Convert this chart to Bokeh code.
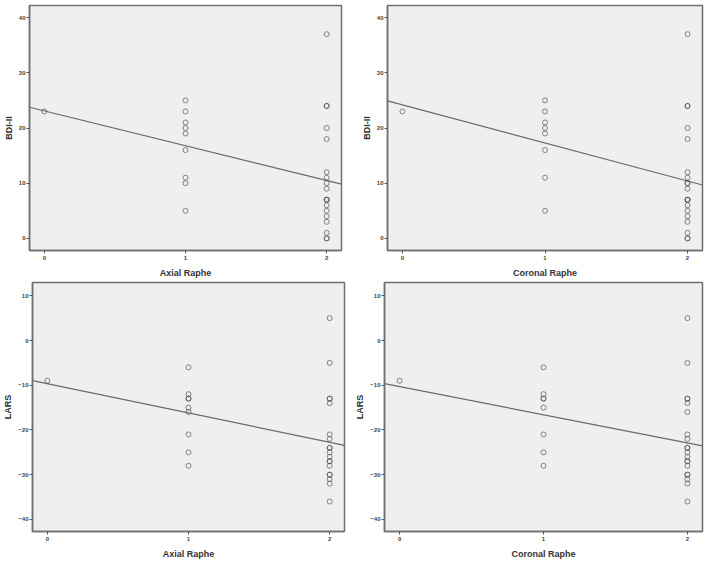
from bokeh.plotting import figure
from bokeh.layouts import column, row
from bokeh.models import Range1d, FixedTicker
from bokeh.embed import file_html
from bokeh.resources import INLINE

# ---------------- data ----------------
axial_raphe_bdi = [0] + [1] * 9 + [2] * 19
bdi_axial = [23,
             25, 23, 21, 20, 19, 16, 11, 10, 5,
             37, 24, 24, 20, 18, 12, 11, 10, 9, 7, 7, 7, 6, 5, 4, 3, 1, 0, 0]

coronal_raphe_bdi = [0] + [1] * 8 + [2] * 20
bdi_coronal = [23,
               25, 23, 21, 20, 19, 16, 11, 5,
               37, 24, 24, 20, 18, 12, 11, 10, 10, 9, 7, 7, 7, 6, 5, 4, 3, 1, 0, 0]

axial_raphe_lars = [0] + [1] * 9 + [2] * 19
lars_axial = [-9,
              -6, -12, -13, -13, -15, -16, -21, -25, -28,
              5, -5, -13, -13, -14, -21, -22, -24, -24, -25, -26, -27, -27, -28,
              -30, -30, -31, -32, -36]

coronal_raphe_lars = [0] + [1] * 8 + [2] * 20
lars_coronal = [-9,
                -6, -12, -13, -13, -15, -21, -25, -28,
                5, -5, -13, -13, -14, -16, -21, -22, -24, -24, -25, -26, -27, -27, -28,
                -30, -30, -31, -32, -36]

# fitted regression lines (intercept, slope)
fit_bdi_axial = (23.1, -6.3)
fit_bdi_coronal = (24.2, -6.9)
fit_lars_axial = (-9.65, -6.55)
fit_lars_coronal = (-10.3, -6.3)

x_ticks = [0, 1, 2]
bdi_ticks = [0, 10, 20, 30, 40]
lars_ticks = [10, 0, -10, -20, -30, -40]

FONT = "Liberation Sans"
EDGE = "#6f6f6f"


def make(xs, ys, fit, xlabel, ylabel, yrange, yticks, fw, fh, bl, br, bt, bb):
    xr = Range1d(-0.105, 2.105)
    p = figure(frame_width=fw, frame_height=fh, x_range=xr,
               y_range=Range1d(*yrange), output_backend="svg",
               toolbar_location=None, min_border_left=bl, min_border_right=br,
               min_border_top=bt, min_border_bottom=bb,
               background_fill_color="#efefef", border_fill_color="white")
    p.grid.visible = False
    p.outline_line_color = EDGE
    p.outline_line_width = 1.5
    b0, b1 = fit
    lx = [xr.start, xr.end]
    p.line(lx, [b0 + b1 * v for v in lx], line_color="#6a6a6a", line_width=1.2)
    p.scatter(xs, ys, marker="circle", size=5, fill_color=None,
              line_color="#4a4a4a", line_alpha=0.65, line_width=1)
    p.xaxis.ticker = FixedTicker(ticks=x_ticks)
    p.yaxis.ticker = FixedTicker(ticks=yticks)
    for ax in (p.xaxis[0], p.yaxis[0]):
        ax.minor_tick_line_color = None
        ax.major_tick_in = 0
        ax.major_tick_out = 3
        ax.major_tick_line_color = "#555555"
        ax.axis_line_color = EDGE
        ax.axis_line_width = 1.5
        ax.major_label_text_font = FONT
        ax.major_label_text_font_size = "6px"
        ax.major_label_text_font_style = "bold"
        ax.major_label_text_color = "#444444"
        ax.major_label_standoff = 1
        ax.axis_label_text_font = FONT
        ax.axis_label_text_font_size = "9px"
        ax.axis_label_text_font_style = "bold"
        ax.axis_label_text_color = "#333333"
    p.xaxis.axis_label = xlabel
    p.yaxis.axis_label = ylabel
    p.xaxis.axis_label_standoff = 5
    p.xaxis.major_label_standoff = 2
    p.yaxis.axis_label_standoff = 2
    return p


p1 = make(axial_raphe_bdi, bdi_axial, fit_bdi_axial, "Axial Raphe", "BDI-II",
          (-2.2, 42.2), bdi_ticks, 312, 245, 29, 14, 5, 29)
p2 = make(coronal_raphe_bdi, bdi_coronal, fit_bdi_coronal, "Coronal Raphe", "BDI-II",
          (-2.2, 42.2), bdi_ticks, 315, 245, 32, 2, 5, 29)
p3 = make(axial_raphe_lars, lars_axial, fit_lars_axial, "Axial Raphe", "LARS",
          (-42.7, 12.97), lars_ticks, 312, 249, 32, 8, 2, 30)
p4 = make(coronal_raphe_lars, lars_coronal, fit_lars_coronal, "Coronal Raphe", "LARS",
          (-42.7, 12.97), lars_ticks, 318, 249, 32, 2, 2, 30)

layout = column(row(p1, p2), row(p3, p4))
open("out.html", "w").write(file_html(layout, INLINE))
